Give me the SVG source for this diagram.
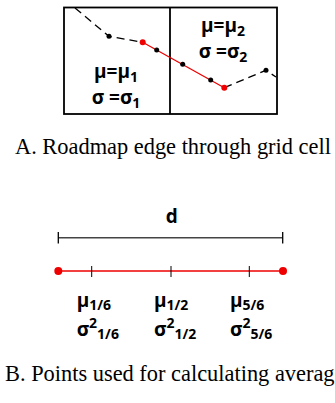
<svg xmlns="http://www.w3.org/2000/svg" width="335" height="403" viewBox="0 0 335 403">
<style>
.lbl{font-family:"Open Sans","Liberation Sans",sans-serif;font-weight:bold;font-size:19px;fill:#000}
.sub{font-size:14px}
.cap{font-family:"Liberation Serif",serif;font-size:22.4px;fill:#000}
.dash{fill:none;stroke:#000;stroke-width:1.3;stroke-dasharray:8 5}
.red{fill:none;stroke:#e00;stroke-width:1.3}
.bd{fill:#000}
.rd{fill:#e00}
</style>
<rect width="335" height="403" fill="#fff"/>
<g id="gridcell">
<rect x="64" y="7.5" width="213" height="106.5" fill="none" stroke="#000" stroke-width="1.8"/>
<line x1="170" y1="7.5" x2="170" y2="114" stroke="#000" stroke-width="1.8"/>
</g>
<g id="connectors">
<polyline class="dash" points="75,8 109,36.3 142.7,42.3"/>
<line class="red" x1="142.7" y1="42.3" x2="224.3" y2="87.7"/>
<polyline class="dash" points="224.3,87.7 266,70.3 276,77"/>
</g>
<g id="points">
<circle class="bd" cx="109" cy="36.3" r="2.5"/>
<circle class="rd" cx="142.7" cy="42.3" r="3"/>
<circle class="bd" cx="156.7" cy="50" r="2.5"/>
<circle class="bd" cx="182.7" cy="64.3" r="2.5"/>
<circle class="bd" cx="210.7" cy="80" r="2.5"/>
<circle class="rd" cx="224.3" cy="87.7" r="3"/>
<circle class="bd" cx="266" cy="70.3" r="2.5"/>
</g>
<g id="labels-cell">
<text class="lbl" x="116" y="78" text-anchor="middle">μ=μ<tspan class="sub" dy="4">1</tspan></text>
<text class="lbl" x="116" y="104" text-anchor="middle">σ =σ<tspan class="sub" dy="4">1</tspan></text>
<text class="lbl" x="223" y="32" text-anchor="middle">μ=μ<tspan class="sub" dy="4">2</tspan></text>
<text class="lbl" x="223" y="58" text-anchor="middle">σ =σ<tspan class="sub" dy="4">2</tspan></text>
</g>
<text class="cap" x="15" y="154">A. Roadmap edge through grid cell</text>
<g id="distance">
<text class="lbl" x="171.7" y="223" text-anchor="middle">d</text>
<line x1="58.3" y1="237.7" x2="282.7" y2="237.7" stroke="#444" stroke-width="1.5"/>
<line x1="58.3" y1="232" x2="58.3" y2="243.5" stroke="#000" stroke-width="1.3"/>
<line x1="282.7" y1="232" x2="282.7" y2="243.5" stroke="#000" stroke-width="1.3"/>
</g>
<g id="edge">
<line class="red" x1="58.3" y1="271" x2="283" y2="271"/>
<line x1="91.7" y1="266" x2="91.7" y2="277" stroke="#000" stroke-width="1"/>
<line x1="171" y1="266" x2="171" y2="277" stroke="#000" stroke-width="1"/>
<line x1="249.3" y1="266" x2="249.3" y2="277" stroke="#000" stroke-width="1"/>
<circle class="rd" cx="58.3" cy="271" r="4"/>
<circle class="rd" cx="283" cy="271" r="4"/>
</g>
<g id="labels-points">
<text class="lbl" x="76.7" y="307">μ<tspan class="sub" dy="3">1/6</tspan></text>
<text class="lbl" x="154" y="307">μ<tspan class="sub" dy="3">1/2</tspan></text>
<text class="lbl" x="230" y="307">μ<tspan class="sub" dy="3">5/6</tspan></text>
<text class="lbl" x="76.7" y="336">σ<tspan class="sub" dy="-8">2</tspan><tspan class="sub" dy="11">1/6</tspan></text>
<text class="lbl" x="154" y="336">σ<tspan class="sub" dy="-8">2</tspan><tspan class="sub" dy="11">1/2</tspan></text>
<text class="lbl" x="230" y="336">σ<tspan class="sub" dy="-8">2</tspan><tspan class="sub" dy="11">5/6</tspan></text>
</g>
<text class="cap" x="5" y="381">B. Points used for calculating average</text>
</svg>
